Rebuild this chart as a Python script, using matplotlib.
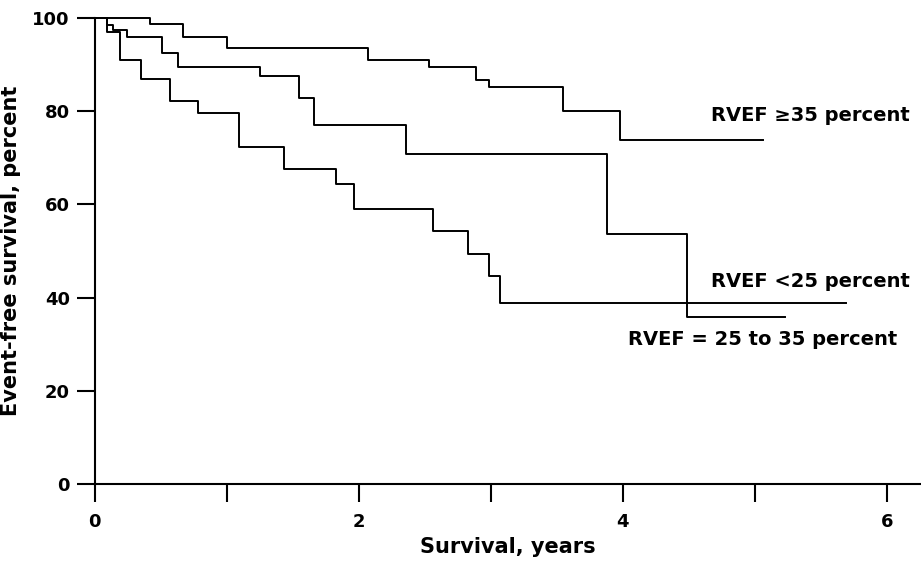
import matplotlib
matplotlib.use("Agg")
import matplotlib.pyplot as plt

# Kaplan-Meier style step curves (years, percent)
TimesHigh = [0, 0.42, 0.67, 1.00, 2.07, 2.53, 2.89, 2.99, 3.55, 3.98]
SurvHigh = [100, 98.7, 96.0, 93.6, 91.1, 89.4, 86.6, 85.1, 80.0, 73.9]
EndHigh = 5.06

TimesMid = [0, 0.09, 0.14, 0.24, 0.51, 0.63, 1.25, 1.55, 1.66, 2.36, 3.88, 4.49]
SurvMid = [100, 98.5, 97.4, 96.0, 92.5, 89.4, 87.5, 82.9, 77.1, 70.8, 53.7, 35.8]
EndMid = 5.23

TimesLow = [0, 0.09, 0.19, 0.35, 0.57, 0.78, 1.09, 1.43, 1.83, 1.96, 2.56, 2.83, 2.99, 3.07]
SurvLow = [100, 97.1, 91.1, 87.0, 82.3, 79.6, 72.3, 67.6, 64.5, 59.0, 54.3, 49.4, 44.6, 38.9]
EndLow = 5.69

XTicks = [0, 1, 2, 3, 4, 5, 6]
XTickLabels = ["0", "", "2", "", "4", "", "6"]
YTicks = [0, 20, 40, 60, 80, 100]

LabelHigh = "RVEF \u226535 percent"
LabelLow = "RVEF <25 percent"
LabelMid = "RVEF = 25 to 35 percent"

fig = plt.figure(figsize=(9.21, 5.63), dpi=100)
ax = fig.add_axes([0.103, 0.140, 0.897, 0.828])

for Times, Surv, End in [(TimesHigh, SurvHigh, EndHigh),
                         (TimesMid, SurvMid, EndMid),
                         (TimesLow, SurvLow, EndLow)]:
    ax.step(Times + [End], Surv + [Surv[-1]], where="post",
            color="black", lw=1.4, clip_on=False)

ax.set_xlim(0, 6.26)
ax.set_ylim(0, 100)

for Side in ["top", "right"]:
    ax.spines[Side].set_visible(False)
for Side in ["left", "bottom"]:
    ax.spines[Side].set_linewidth(1.5)

TickFont = {"family": "DejaVu Sans", "weight": "bold", "size": 13}
ax.set_xticks(XTicks)
ax.set_xticklabels(XTickLabels, fontdict=TickFont)
ax.set_yticks(YTicks)
ax.set_yticklabels([str(v) for v in YTicks], fontdict=TickFont)
ax.tick_params(axis="x", direction="out", length=13, width=1.5, pad=8)
ax.tick_params(axis="y", direction="out", length=13, width=1.5, pad=5)

ax.set_xlabel("Survival, years", fontsize=15, fontweight="bold", labelpad=4)
ax.set_ylabel("Event-free survival, percent", fontsize=15, fontweight="bold", labelpad=8)

TextStyle = {"fontsize": 14, "fontweight": "bold", "va": "center", "ha": "left"}
ax.text(4.67, 79.0, LabelHigh, **TextStyle)
ax.text(4.67, 43.5, LabelLow, **TextStyle)
ax.text(4.04, 31.0, LabelMid, **TextStyle)

plt.savefig("out.png", dpi=100)
